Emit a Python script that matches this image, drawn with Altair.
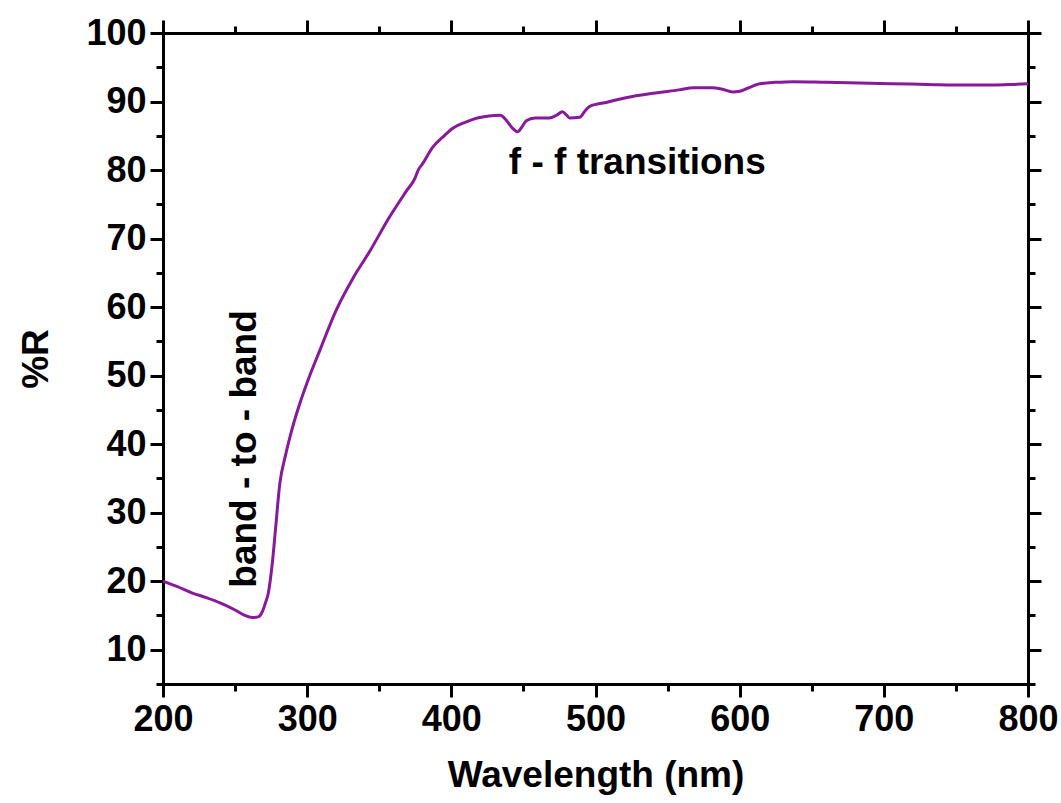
import altair as alt
import pandas as pd

# Reflectance spectrum (%R vs wavelength)
wavelength = [200, 210, 220, 230, 240, 250, 256, 262, 266, 269, 271, 273, 276, 278, 281,
              285, 288, 295, 300, 309, 320, 332, 343, 357, 369, 375, 377, 380, 387, 395,
              401, 410, 418, 426, 434, 438, 442, 446, 449, 452, 458, 468, 473, 477, 480,
              482, 489, 493, 496, 508, 522, 540, 558, 568, 580, 588, 595, 600, 605, 614,
              625, 637, 660, 683, 705, 730, 755, 776, 790, 800]
reflect = [20.0, 19.2, 18.3, 17.6, 16.8, 15.8, 15.1, 14.7, 14.8, 15.6, 16.8, 18.2, 23.0, 27.5, 34.2,
           38.4, 41.0, 46.0, 49.0, 53.8, 59.5, 64.3, 68.0, 73.1, 77.0, 78.9, 80.0, 80.9, 83.3, 85.0,
           86.1, 87.0, 87.6, 87.9, 88.0, 87.3, 86.2, 85.6, 86.3, 87.2, 87.6, 87.6, 88.0, 88.5, 88.0,
           87.6, 87.7, 88.7, 89.3, 89.9, 90.6, 91.2, 91.7, 92.0, 92.0, 91.8, 91.4, 91.5, 91.9, 92.6,
           92.8, 92.9, 92.8, 92.7, 92.6, 92.5, 92.4, 92.4, 92.5, 92.6]

x_ticks = list(range(200, 801, 50))
y_ticks = list(range(5, 101, 5))

ann_text = ["band - to - band", "f - f transitions"]
ann_x = [257, 529]
ann_y = [39.3, 81.0]

df = pd.DataFrame({"wl": wavelength, "r": reflect})
ann = pd.DataFrame({"t": ann_text, "x": ann_x, "y": ann_y})

FONT = "Liberation Sans"
xs = alt.Scale(domain=[200, 800], nice=False, zero=False)
ys = alt.Scale(domain=[5, 100], nice=False, zero=False)

x_tick_size = {"condition": {"test": "datum.value % 100 === 0", "value": 13}, "value": 7}
y_tick_size = {"condition": {"test": "datum.value % 10 === 0", "value": 13}, "value": 7}

common = dict(grid=False, domainColor="black", domainWidth=3, tickColor="black",
              tickWidth=3, labelFont=FONT, labelFontSize=36, labelFontWeight="bold",
              labelColor="black", titleFont=FONT, titleFontSize=37, titleFontWeight="bold",
              titleColor="black", labelOverlap=False, labelFlush=False, labelBound=False)

ax_bottom = alt.Axis(orient="bottom", values=x_ticks, tickSize=x_tick_size,
                     labelExpr="datum.value % 100 === 0 ? datum.label : ''",
                     labelPadding=5, title="Wavelength (nm)", titlePadding=20, **common)
ax_left = alt.Axis(orient="left", values=y_ticks, tickSize=y_tick_size,
                   labelExpr="datum.value % 10 === 0 && datum.value >= 10 ? datum.label : ''",
                   labelPadding=4, title="%R", titlePadding=30, **common)
ax_top = alt.Axis(orient="top", values=x_ticks, tickSize=x_tick_size, labels=False,
                  title=None, **common)
ax_right = alt.Axis(orient="right", values=y_ticks, tickSize=y_tick_size, labels=False,
                    title=None, **common)

line = alt.Chart(df).mark_line(color="#88199A", strokeWidth=3, interpolate="monotone").encode(
    x=alt.X("wl:Q", scale=xs, axis=ax_bottom),
    y=alt.Y("r:Q", scale=ys, axis=ax_left),
)
mirror = alt.Chart(df).mark_line(opacity=0).encode(
    x=alt.X("wl:Q", scale=xs, axis=ax_top),
    y=alt.Y("r:Q", scale=ys, axis=ax_right),
)

txt_common = dict(font=FONT, fontSize=37, fontWeight="bold", color="black",
                  align="center", baseline="middle")
t1 = alt.Chart(ann.iloc[[0]]).mark_text(angle=270, **txt_common).encode(
    x=alt.X("x:Q", scale=xs, axis=None), y=alt.Y("y:Q", scale=ys, axis=None), text="t:N")
t2 = alt.Chart(ann.iloc[[1]]).mark_text(**txt_common).encode(
    x=alt.X("x:Q", scale=xs, axis=None), y=alt.Y("y:Q", scale=ys, axis=None), text="t:N")

chart = alt.layer(line, mirror, t1, t2).resolve_axis(x="independent", y="independent").properties(
    width=865, height=651,
    autosize=alt.AutoSizeParams(type="none"),
    padding={"left": 163, "top": 33, "right": 33, "bottom": 119},
    background="white",
).configure_view(stroke=None)

chart.save("out.html", embed_options={"renderer": "svg", "actions": False})
